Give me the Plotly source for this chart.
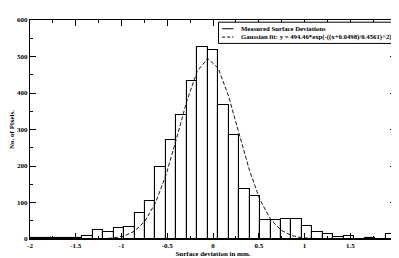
import plotly.graph_objects as go

# Histogram: 35 bins spanning -2 .. 2 mm
bin_start = -2.0
bin_end = 2.0
n_bins = 35
counts = [4, 4, 2, 4, 4, 8, 24, 20, 29, 33, 71, 104, 196, 270, 340, 433, 527, 518,
          366, 284, 138, 117, 52, 52, 55, 54, 36, 19, 13, 5, 7, 1, 3, 0, 13]

# Gaussian fit curve, read at the bin edges
fit_x = [-2.0, -1.886, -1.771, -1.657, -1.543, -1.429, -1.314, -1.2, -1.086, -0.971,
         -0.857, -0.743, -0.629, -0.514, -0.4, -0.286, -0.171, -0.057, 0.057, 0.171,
         0.286, 0.4, 0.514, 0.629, 0.743, 0.857, 0.971, 1.086, 1.2, 1.314, 1.429,
         1.543, 1.657, 1.771, 1.886, 2.0]
fit_y = [0, 0, 0, 0, 0, 0, 0.2, 0.9, 2.9, 8.3, 21.6, 49.1, 98.8, 175.3, 274.2, 378.4,
         460.5, 494.3, 468.0, 390.8, 287.8, 187.0, 107.1, 54.1, 24.1, 9.5, 3.3, 1.0,
         0.3, 0.1, 0, 0, 0, 0, 0, 0]

x_tickvals = [-2, -1.5, -1, -0.5, 0, 0.5, 1, 1.5, 2]
x_ticktext = ["-2", "-1.5", "-1", "-0.5", "0", "0.5", "1", "1.5", "2"]
y_tickvals = [0, 100, 200, 300, 400, 500, 600]

legend_labels = ["Measured Surface Deviations",
                 "Gaussian fit: y = 494.46*exp(-((x+0.0498)/0.4561)^2)"]

width = (bin_end - bin_start) / n_bins
centers = [bin_start + (i + 0.5) * width for i in range(n_bins)]

FONT = dict(family="Liberation Serif", size=7, color="black", weight="bold")
LFONT = dict(family="Liberation Serif", size=6.75, color="black", weight="bold")

fig = go.Figure()
fig.add_trace(go.Bar(x=centers, y=counts, width=width,
                     marker=dict(color="white", line=dict(color="black", width=1.1)),
                     showlegend=False))
fig.add_trace(go.Scatter(x=fit_x, y=fit_y, mode="lines",
                         line=dict(color="black", width=0.9, dash="4px,2px"),
                         showlegend=False))

# legend box (drawn manually to match the compact original)
lx0, lx1, ly0, ly1 = 0.515, 0.9926, 0.893, 0.99
fig.add_shape(type="rect", xref="paper", yref="paper", x0=lx0, x1=lx1, y0=ly0, y1=ly1,
              line=dict(color="black", width=1), fillcolor="white", layer="above")
rows = [0.960, 0.922]
dashes = ["solid", "3px,2px"]
for yy, lab, d in zip(rows, legend_labels, dashes):
    fig.add_shape(type="line", xref="paper", yref="paper", x0=0.525, x1=0.556, y0=yy, y1=yy,
                  line=dict(color="black", width=1, dash=d), layer="above")
    fig.add_annotation(xref="paper", yref="paper", x=0.572, y=yy, text=lab, showarrow=False,
                       xanchor="left", yanchor="middle", font=LFONT)

axis_common = dict(showline=True, linecolor="black", linewidth=1, mirror="allticks",
                   ticks="inside", ticklen=6, tickcolor="black", tickwidth=1,
                   showgrid=False, zeroline=False, tickfont=FONT, automargin=False,
                   ticklabeloverflow="allow")

fig.update_xaxes(range=[-2, 2], tickvals=x_tickvals, ticktext=x_ticktext,
                 minor=dict(ticks="inside", ticklen=3, dtick=0.25, tickcolor="black", showgrid=False),
                 title=dict(text="Surface deviation in mm.", font=FONT, standoff=7),
                 **axis_common)
fig.update_yaxes(range=[0, 600], tickvals=y_tickvals,
                 minor=dict(ticks="inside", ticklen=3, dtick=50, tickcolor="black", showgrid=False),
                 title=dict(text="No. of Pixels.", font=FONT, standoff=7),
                 **axis_common)

# the page body adds an 8px margin, so the figure is sized to fill the 399x258 window
fig.update_layout(width=391, height=250, margin=dict(l=22, r=3, t=11.5, b=19),
                  paper_bgcolor="white", plot_bgcolor="white", bargap=0,
                  font=FONT)

fig.write_html("out.html")
